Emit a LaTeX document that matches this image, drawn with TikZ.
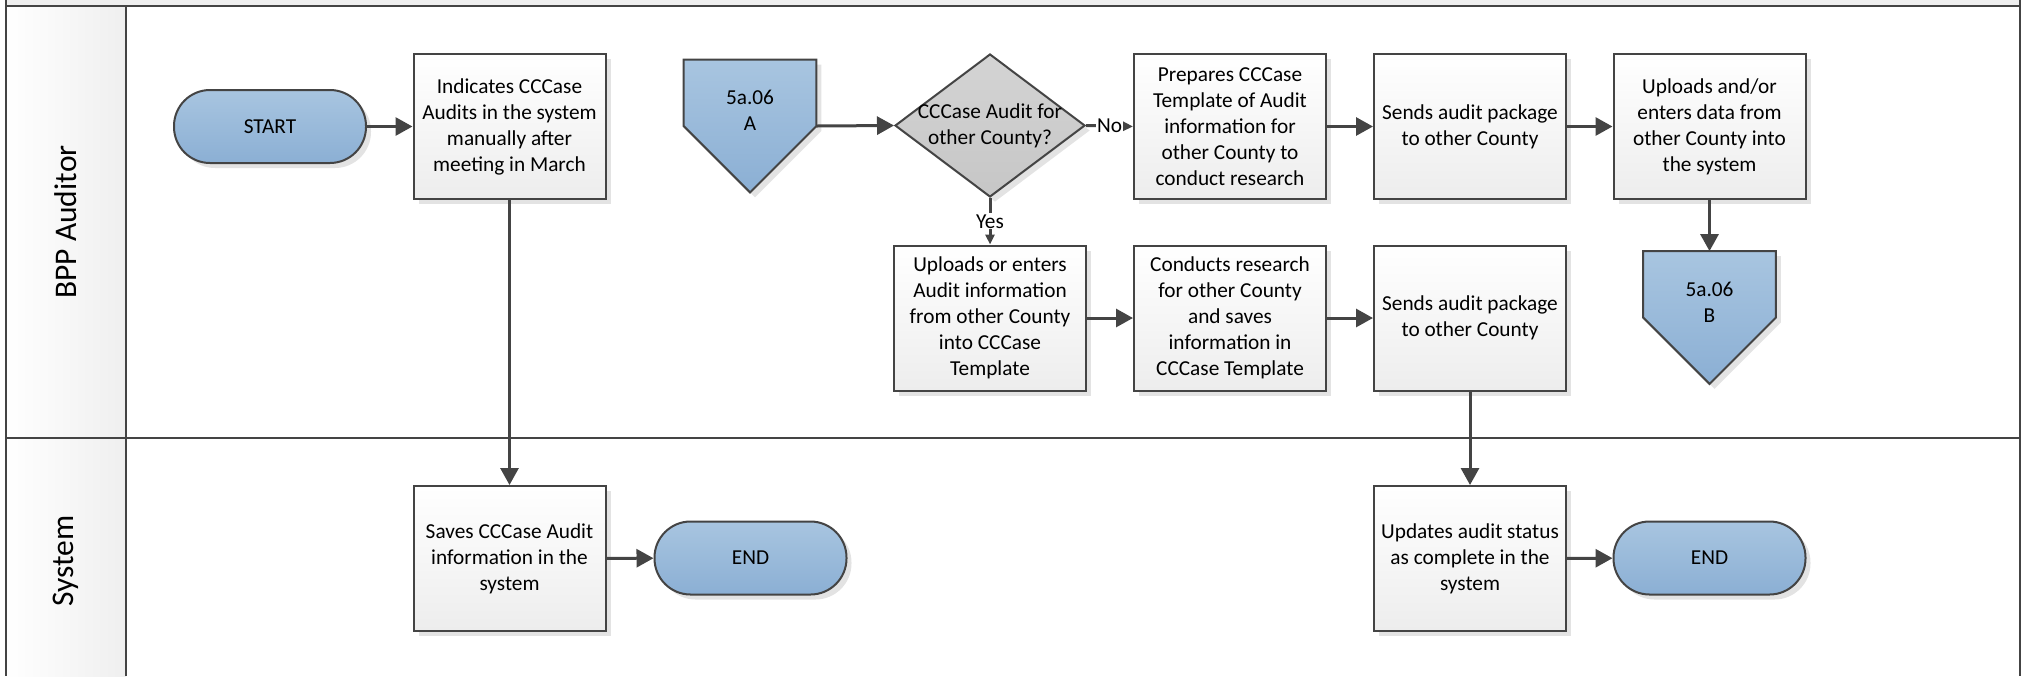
\documentclass[tikz,border=0pt]{standalone}
\usepackage{fontspec}
\setmainfont{Carlito}
\usetikzlibrary{arrows.meta,shapes.geometric,shadows}
\definecolor{lineclr}{HTML}{444444}
\definecolor{blueT}{HTML}{A8C5E0}
\definecolor{blueB}{HTML}{8BAFD4}
\definecolor{grayT}{HTML}{D4D4D4}
\definecolor{grayB}{HTML}{C6C6C6}
\definecolor{boxB}{HTML}{EDEDED}
\definecolor{laneG}{HTML}{EFEFEF}
\begin{document}
\begin{tikzpicture}[x=0.5pt,y=-0.5pt,
  font=\fontsize{10.65pt}{13pt}\selectfont,
  shad/.style={drop shadow={shadow xshift=2.5pt,shadow yshift=-2.5pt,fill=black!11,opacity=1}},
  task/.style={rectangle, draw=lineclr, line width=1pt, top color=white, bottom color=boxB,
    minimum width=96pt, minimum height=72.5pt, align=center, inner sep=2pt, shad},
  term/.style={rectangle, rounded corners=18pt, draw=lineclr, line width=1pt,
    top color=blueT, bottom color=blueB, minimum width=96pt, minimum height=36.5pt, shad},
  decision/.style={diamond, draw=lineclr, line width=1pt, top color=grayT, bottom color=grayB,
    minimum width=95pt, minimum height=71.5pt, inner sep=0pt, shad},
  pentbox/.style={rectangle, minimum width=66pt, minimum height=66pt, inner sep=0pt},
  pentfill/.style={draw=lineclr, line width=1pt, top color=blueT, bottom color=blueB, shad},
  lane/.style={draw=lineclr, line width=1.25pt},
  lanelabel/.style={rotate=90, font=\fontsize{15.75pt}{18pt}\selectfont},
  conn/.style={draw=lineclr, line width=1.5pt, -{Triangle[length=8.5pt,width=9pt]}},
  connsmall/.style={draw=lineclr, line width=1.5pt, -{Triangle[length=5pt,width=4.5pt]}},
  clabel/.style={fill=white, inner sep=0.6pt}
]
\useasboundingbox (0,0) rectangle (2023,676);
% pool frame
\fill[laneG] (6,0) rectangle (2020,6);
\shade[left color=white, right color=laneG] (6,6) rectangle (126,676);
\draw[lane] (6,0) -- (6,676);
\draw[lane] (2020,0) -- (2020,676);
\draw[lane] (6,6) -- (2020,6);
\draw[lane] (126,6) -- (126,676);
\draw[lane] (6,438) -- (2020,438);
\node[lanelabel] (l1) at (66,222) {BPP Auditor};
\node[lanelabel] (l2) at (66,561) {System};

% lane 1, row 1
\node[term] (start) at (270,126.5) {START};
\node[task] (ind) at (509.5,126.5) {Indicates CCCase\\Audits in the system\\manually after\\meeting in March};
\node[pentbox] (pA) at (750,126) {};
\path[pentfill] (pA.north west) -- (pA.north east) -- (pA.east) -- (pA.south) -- (pA.west) -- cycle;
\node[align=center] (pAt) at (750,110) {5a.06\\A};
\node[decision, label={[align=center]center:CCCase Audit for\\other County?}] (dec) at (990,125.5) {};
\node[task] (prep) at (1230,126.5) {Prepares CCCase\\Template of Audit\\information for\\other County to\\conduct research};
\node[task] (send1) at (1470,126.5) {Sends audit package\\to other County};
\node[task] (upl1) at (1709.5,126.5) {Uploads and/or\\enters data from\\other County into\\the system};

% lane 1, row 2
\node[task] (upl2) at (990,318) {Uploads or enters\\Audit information\\from other County\\into CCCase\\Template};
\node[task] (cond) at (1230,318) {Conducts research\\for other County\\and saves\\information in\\CCCase Template};
\node[task] (send2) at (1470,318) {Sends audit package\\to other County};
\node[pentbox] (pB) at (1709.5,317.5) {};
\path[pentfill] (pB.north west) -- (pB.north east) -- (pB.east) -- (pB.south) -- (pB.west) -- cycle;
\node[align=center] (pBt) at (1709.5,302) {5a.06\\B};

% lane 2
\node[task] (save) at (509.5,558.5) {Saves CCCase Audit\\information in the\\system};
\node[term] (end1) at (750.5,558) {END};
\node[task] (upd) at (1470,558.5) {Updates audit status\\as complete in the\\system};
\node[term] (end2) at (1709.5,558) {END};

% connectors
\draw[conn] (start) -- (ind);
\draw[conn] (ind) -- (save);
\draw[conn] (save) -- (end1);
\draw[conn] (pA.east) -- (dec.west);
\draw[connsmall] (dec.east) -- node[clabel] {No} (prep.west);
\draw[connsmall] (dec.south) -- node[clabel] {Yes} (upl2.north);
\draw[conn] (prep) -- (send1);
\draw[conn] (send1) -- (upl1);
\draw[conn] (upl1.south) -- (pB.north);
\draw[conn] (upl2) -- (cond);
\draw[conn] (cond) -- (send2);
\draw[conn] (send2) -- (upd);
\draw[conn] (upd) -- (end2);
\end{tikzpicture}
\end{document}
